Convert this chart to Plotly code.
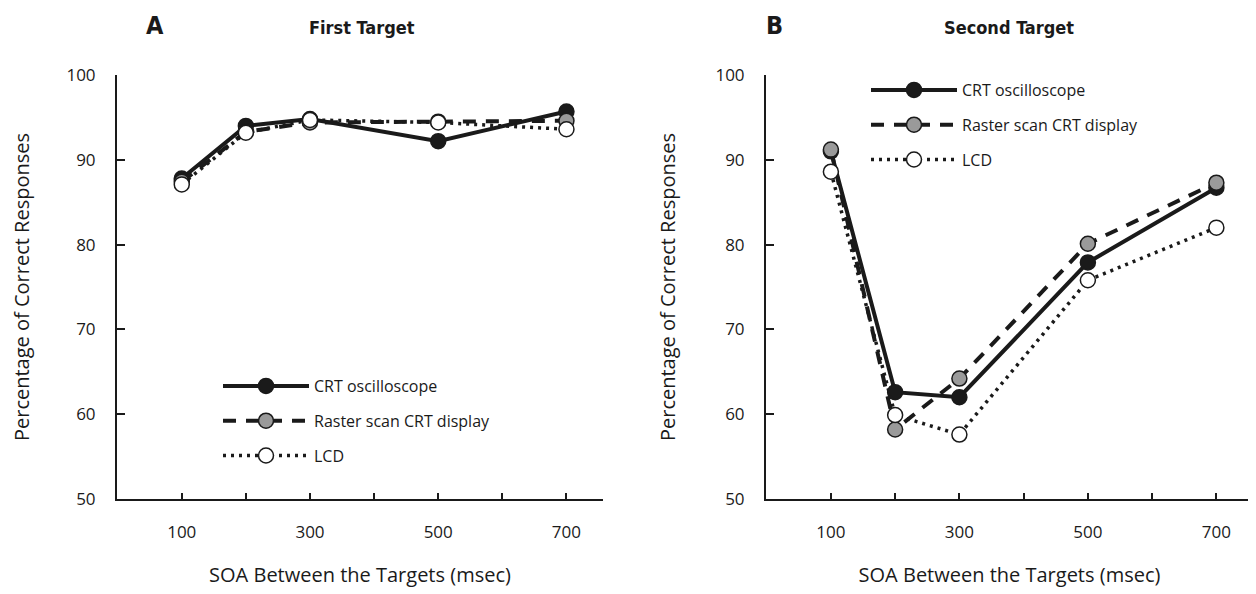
import plotly.graph_objects as go

# ---- data ----
soa = [100, 200, 300, 500, 700]
series_names = ["CRT oscilloscope", "Raster scan CRT display", "LCD"]
first_crt = [87.8, 94.0, 94.8, 92.2, 95.7]
first_raster = [87.4, 93.3, 94.4, 94.5, 94.6]
first_lcd = [87.1, 93.2, 94.7, 94.4, 93.6]
second_crt = [91.0, 62.6, 62.0, 77.9, 86.7]
second_raster = [91.2, 58.2, 64.2, 80.1, 87.3]
second_lcd = [88.6, 59.9, 57.6, 75.8, 82.0]
x_tickvals = [100, 200, 300, 400, 500, 600, 700]
x_ticktext = ["100", "", "300", "", "500", "", "700"]
y_tickvals = [50, 60, 70, 80, 90, 100]

W, H = 1256, 594
OFF = 8  # page body margin offset
FONT = "Open Sans, Noto Sans, sans-serif"
BOLD = "Liberation Sans Narrow, DejaVu Sans Condensed, sans-serif"
INK = "#1a1a1a"

styles = [
    dict(line=dict(color=INK, width=4, dash="solid"),
         marker=dict(size=15, color=INK, line=dict(color=INK, width=1.5))),
    dict(line=dict(color=INK, width=4, dash="13px,10px"),
         marker=dict(size=15, color="#9a9a9a", line=dict(color=INK, width=1.5))),
    dict(line=dict(color=INK, width=3.5, dash="3px,5px"),
         marker=dict(size=15, color="white", line=dict(color=INK, width=1.5))),
]

fig = go.Figure()
panels = [
    ("x", "y", "legend", [first_crt, first_raster, first_lcd]),
    ("x2", "y2", "legend2", [second_crt, second_raster, second_lcd]),
]
for xa, ya, lg, data in panels:
    for name, vals, st in zip(series_names, data, styles):
        fig.add_trace(go.Scatter(
            x=soa, y=vals, name=name, mode="lines+markers",
            xaxis=xa, yaxis=ya, legend=lg, legendgroup=lg + name,
            line=st["line"], marker=st["marker"], cliponaxis=False,
        ))

def px_x(p):
    return (p - OFF) / W

def px_y(p):
    return (H - (p - OFF)) / H

xdom1 = [px_x(117), px_x(603)]
xdom2 = [px_x(766), px_x(1253)]
ydom = [px_y(499), px_y(75)]

axis_common_x = dict(
    range=[-1, 757], tickvals=x_tickvals, ticktext=x_ticktext, automargin=False,
    ticks="inside", ticklen=6, tickwidth=1.5, tickcolor=INK,
    showline=True, linecolor=INK, linewidth=2, showgrid=False, zeroline=False,
    tickfont=dict(family=FONT, size=17, color=INK), ticklabelstandoff=17,
    title=dict(text="SOA Between the Targets (msec)",
               font=dict(family=FONT, size=20, color=INK), standoff=26),
)
axis_common_y = dict(
    range=[50, 100], tickvals=y_tickvals, automargin=False,
    ticks="inside", ticklen=8, tickwidth=1.5, tickcolor=INK,
    showline=True, linecolor=INK, linewidth=2, showgrid=False, zeroline=False,
    tickfont=dict(family=FONT, size=17, color=INK), ticklabelstandoff=16,
    title=dict(text="Percentage of Correct Responses",
               font=dict(family=FONT, size=20, color=INK), standoff=34),
)

legend_common = dict(
    bgcolor="rgba(0,0,0,0)", borderwidth=0, itemwidth=86,
    font=dict(family=FONT, size=16, color=INK), tracegroupgap=11,
    xanchor="left", yanchor="top", itemclick=False, itemdoubleclick=False,
)

def label(text, x, y, size):
    return dict(text=text, x=px_x(x), y=px_y(y), xref="paper", yref="paper",
                xanchor="center", yanchor="middle", showarrow=False,
                font=dict(family=BOLD, size=size, color=INK))

fig.update_layout(
    template="none",
    width=W, height=H, autosize=False,
    margin=dict(l=0, r=0, t=0, b=0, autoexpand=False),
    paper_bgcolor="white", plot_bgcolor="white",
    xaxis=dict(domain=xdom1, anchor="y", **axis_common_x),
    yaxis=dict(domain=ydom, anchor="x", **axis_common_y),
    xaxis2=dict(domain=xdom2, anchor="y2", **axis_common_x),
    yaxis2=dict(domain=ydom, anchor="x2", **axis_common_y),
    legend=dict(x=px_x(218), y=px_y(369), **legend_common),
    legend2=dict(x=px_x(866), y=px_y(73), **legend_common),
    showlegend=True,
    annotations=[
        label("<b>A</b>", 155, 25, 25),
        label("<b>First Target</b>", 362, 28, 18),
        label("<b>B</b>", 775, 25, 25),
        label("<b>Second Target</b>", 1009, 28, 18),
    ],
)

fig.write_html("out.html")
